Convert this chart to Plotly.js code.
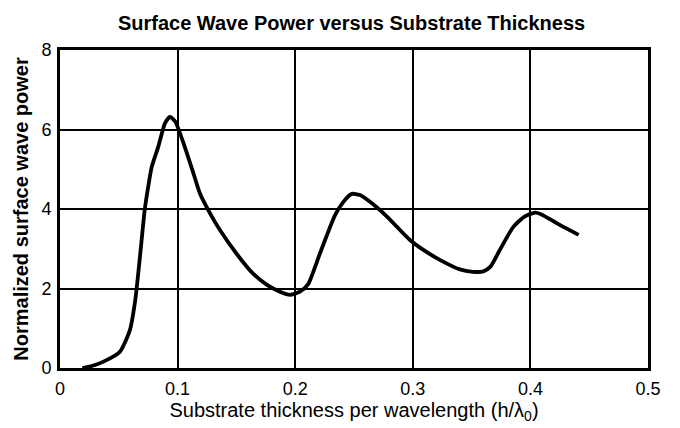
<!DOCTYPE html>
<html>
<head>
<meta charset="utf-8">
<script src="https://cdn.plot.ly/plotly-3.0.1.min.js"></script>
<style>html,body{margin:0;padding:0;background:#fff;}#chart{width:680px;height:428px;}</style>
</head>
<body>
<div id="chart"></div>
<script>
const thickness = [0.019, 0.027, 0.037, 0.051, 0.0595, 0.064, 0.068, 0.072, 0.075, 0.078, 0.0836, 0.0893, 0.0935, 0.098, 0.106, 0.113, 0.119, 0.1276, 0.136, 0.150, 0.164, 0.176, 0.187, 0.1956, 0.204, 0.211, 0.221, 0.234, 0.241, 0.248, 0.255, 0.2636, 0.278, 0.2976, 0.309, 0.323, 0.340, 0.351, 0.360, 0.366, 0.374, 0.3855, 0.395, 0.404, 0.409, 0.425, 0.441];
const power = [0.0, 0.05, 0.16, 0.41, 0.96, 1.71, 2.8, 3.97, 4.56, 5.06, 5.57, 6.16, 6.32, 6.2, 5.57, 4.94, 4.39, 3.89, 3.47, 2.88, 2.38, 2.09, 1.92, 1.84, 1.92, 2.11, 2.88, 3.85, 4.18, 4.38, 4.35, 4.18, 3.81, 3.22, 2.97, 2.72, 2.48, 2.42, 2.43, 2.55, 2.97, 3.55, 3.81, 3.91, 3.87, 3.60, 3.35];
const xTicks = [0, 0.1, 0.2, 0.3, 0.4, 0.5];
const xTickLabels = ["0", "0.1", "0.2", "0.3", "0.4", "0.5"];
const yTicks = [0, 2, 4, 6, 8];

const trace = {
  x: thickness, y: power, type: 'scatter', mode: 'lines',
  line: {color: '#000', width: 3.8, shape: 'spline', smoothing: 0.6},
  hoverinfo: 'skip'
};
const layout = {
  width: 680, height: 428,
  margin: {l: 60, r: 32, t: 50, b: 60},
  paper_bgcolor: '#fff', plot_bgcolor: '#fff',
  showlegend: false,
  font: {family: 'Liberation Sans, Arial, sans-serif', color: '#000'},
  title: {text: 'Surface Wave Power versus Substrate Thickness', font: {size: 20, family: 'Liberation Sans, Arial, sans-serif', weight: 'bold', color: '#000'}, x: 0.517, xanchor: 'center', y: 0.947, yanchor: 'middle'},
  xaxis: {
    range: [0, 0.5], tickvals: xTicks, ticktext: xTickLabels, ticks: '',
    showgrid: true, gridcolor: '#000', gridwidth: 2,
    showline: true, linecolor: '#000', linewidth: 3, mirror: true, zeroline: false,
    tickfont: {size: 18}, ticklabelstandoff: 2,
    title: {text: 'Substrate thickness per wavelength (h/λ<sub>0</sub>)', font: {size: 20}, standoff: 3}
  },
  yaxis: {
    range: [0, 8], tickvals: yTicks, ticks: '',
    showgrid: true, gridcolor: '#000', gridwidth: 2,
    showline: true, linecolor: '#000', linewidth: 3, mirror: true, zeroline: false,
    tickfont: {size: 18}, ticklabelstandoff: 2,
    title: {text: 'Normalized surface wave power', font: {size: 20, weight: 'bold'}, standoff: 8}
  }
};
Plotly.newPlot('chart', [trace], layout, {staticPlot: true, displayModeBar: false});
</script>
</body>
</html>
